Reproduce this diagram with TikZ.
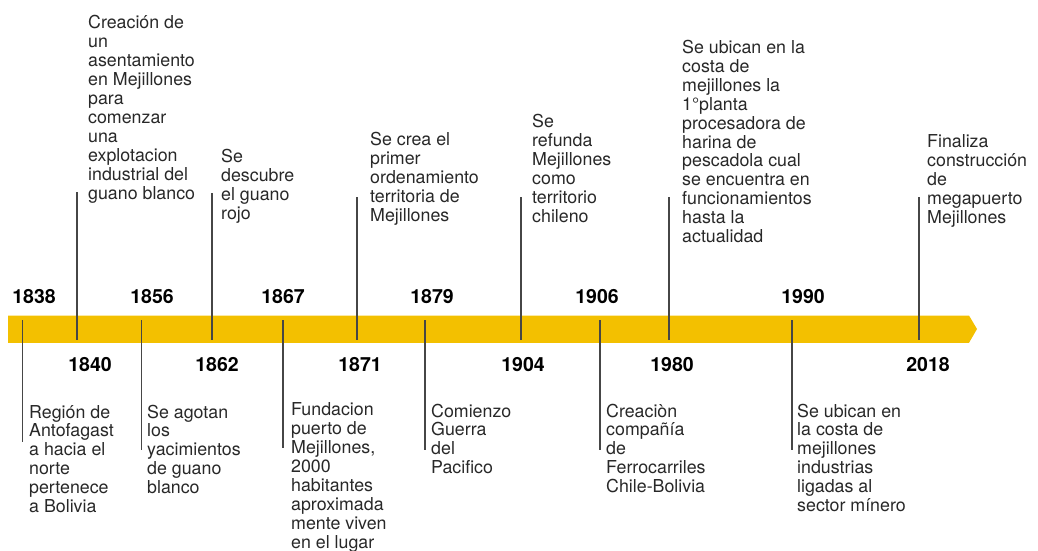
\documentclass[tikz,border=0pt]{standalone}
\usepackage{fontspec}
\setmainfont{TeX Gyre Heros}
\definecolor{barcol}{RGB}{243,192,0}
\definecolor{txtcol}{RGB}{40,40,40}
\definecolor{tickcol}{RGB}{70,70,70}
\begin{document}
\begin{tikzpicture}[x=1pt,y=-1pt,
  evtext/.style={anchor=base west,inner sep=0pt,align=left,text=txtcol,
    font=\fontsize{17.8}{18.9}\selectfont},
  yearlab/.style={anchor=base,inner sep=0pt,text=black,
    font=\fontsize{19.5}{22}\selectfont\bfseries},
  tick/.style={draw=tickcol,line width=1.1pt}]
\useasboundingbox (0,0) rectangle (1038,550);
% bar with pointed end
\fill[barcol] (8,315.5) -- (969,315.5) -- (977,329) -- (969,342.8) -- (8,342.8) -- cycle;
% tick coordinates
\foreach \n/\x/\a/\b in {1838/22.7/320/442, 1840/77/192/340, 1856/141.7/320/450,
  1862/212/193/340, 1867/283/320/448, 1871/357/197/340, 1879/425/320/450,
  1904/521/197/340, 1906/600/320/450, 1980/669/197/340, 1990/792/320/450,
  2018/919/197/340}{
  \coordinate (p\n) at (\x,\a);
  \coordinate (q\n) at (\x,\b);
}
\foreach \n in {1838,1840,1856,1862,1867,1871,1879,1904,1906,1980,1990,2018}{
  \draw[tick] (p\n) -- (q\n);
}
% year labels
\node[yearlab] (y1838) at (34,303) {1838};
\node[yearlab] (y1856) at (152,303) {1856};
\node[yearlab] (y1867) at (283,303) {1867};
\node[yearlab] (y1879) at (432,303) {1879};
\node[yearlab] (y1906) at (597,303) {1906};
\node[yearlab] (y1990) at (803,303) {1990};
\node[yearlab] (y1840) at (90,371) {1840};
\node[yearlab] (y1862) at (217,371) {1862};
\node[yearlab] (y1871) at (360,371) {1871};
\node[yearlab] (y1904) at (523,371) {1904};
\node[yearlab] (y1980) at (672,371) {1980};
\node[yearlab] (y2018) at (928,371) {2018};
% top texts (anchored at the baseline of their last line)
\node[evtext] (t1840) at (88,199) {Creación de\\un\\asentamiento\\en Mejillones\\para\\comenzar\\una\\explotacion\\industrial del\\guano blanco};
\node[evtext] (t1862) at (221,219.5) {Se\\descubre\\el guano\\rojo};
\node[evtext] (t1871) at (370,221.5) {Se crea el\\primer\\ordenamiento\\territoria de\\Mejillones};
\node[evtext] (t1904) at (532,222) {Se\\refunda\\Mejillones\\como\\territorio\\chileno};
\node[evtext] (t1980) at (682,242.5) {Se ubican en la\\costa de\\mejillones la\\1°planta\\procesadora de\\harina de\\pescadola cual\\se encuentra en\\funcionamientos\\hasta la\\actualidad};
\node[evtext] (t2018) at (927,223) {Finaliza\\construcción\\de\\megapuerto\\Mejillones};
% bottom texts
\node[evtext] (t1838) at (29,512.5) {Región de\\Antofagast\\a hacia el\\norte\\pertenece\\a Bolivia};
\node[evtext] (t1856) at (147,493.6) {Se agotan\\los\\yacimientos\\de guano\\blanco};
\node[evtext] (t1867) at (291,548) {Fundacion\\puerto de\\Mejillones,\\2000\\habitantes\\aproximada\\mente viven\\en el lugar};
\node[evtext] (t1879) at (431,473.7) {Comienzo\\Guerra\\del\\Pacifico};
\node[evtext] (t1906) at (606,492.6) {Creaciòn\\compañía\\de\\Ferrocarriles\\Chile-Bolivia};
\node[evtext] (t1990) at (797,511.5) {Se ubican en\\la costa de\\mejillones\\industrias\\ligadas al\\sector mínero};
\end{tikzpicture}
\end{document}
